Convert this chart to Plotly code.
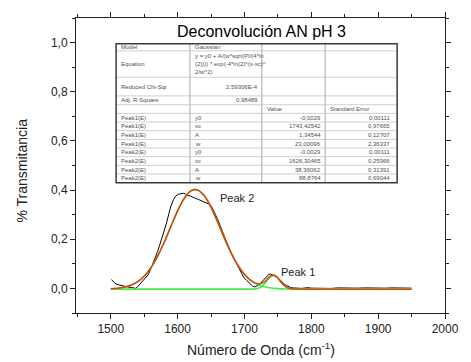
import plotly.graph_objects as go

# ---------------- data ----------------
data_x = [1501, 1504, 1507, 1511, 1515, 1519, 1523, 1527, 1531, 1534, 1537, 1540, 1543, 1546,
          1550, 1553, 1556, 1560, 1563, 1566, 1570, 1573, 1576, 1580, 1583, 1587, 1590, 1594,
          1597, 1601, 1605, 1609, 1612, 1615, 1619, 1623, 1627, 1631, 1635, 1639, 1643, 1646,
          1650, 1653, 1657, 1660, 1663, 1667, 1670, 1673, 1677, 1680, 1683, 1687, 1690, 1693,
          1696, 1699, 1703, 1706, 1709, 1712, 1715, 1718, 1721, 1724, 1727, 1730, 1733, 1736,
          1739, 1742, 1745, 1748, 1751, 1754, 1757, 1760, 1763, 1766, 1769, 1772, 1776, 1780,
          1785, 1790, 1795, 1800, 1810, 1820, 1830, 1840, 1850, 1860, 1870, 1880, 1890, 1900,
          1910, 1920, 1930, 1940, 1950]
data_y = [0.036, 0.028, 0.019, 0.015, 0.012, 0.009, 0.006, 0.005, 0.004, 0.001, 0.000, 0.006,
          0.016, 0.025, 0.036, 0.046, 0.056, 0.080, 0.100, 0.122, 0.150, 0.175, 0.200, 0.232,
          0.262, 0.305, 0.335, 0.362, 0.375, 0.383, 0.386, 0.387, 0.383, 0.378, 0.376, 0.370,
          0.366, 0.362, 0.357, 0.354, 0.350, 0.344, 0.337, 0.322, 0.298, 0.280, 0.256, 0.232,
          0.212, 0.190, 0.164, 0.145, 0.128, 0.108, 0.090, 0.072, 0.057, 0.044, 0.033, 0.024,
          0.016, 0.010, 0.006, 0.008, 0.013, 0.021, 0.030, 0.038, 0.046, 0.056, 0.059, 0.055,
          0.052, 0.046, 0.040, 0.031, 0.024, 0.017, 0.012, 0.007, 0.004, 0.002, 0.000, 0.001,
          0.000, 0.002, 0.003, 0.001, 0.000, 0.001, 0.000, 0.002, 0.001, 0.000, 0.001, 0.002,
          0.001, 0.000, 0.001, 0.002, 0.001, 0.000, 0.001]

fit_x = [1500, 1510, 1520, 1530, 1540, 1550, 1560, 1570, 1580, 1590, 1600, 1610, 1620, 1630,
         1640, 1650, 1660, 1670, 1680, 1690, 1700, 1705, 1710, 1715, 1720, 1725, 1730, 1735,
         1740, 1745, 1750, 1755, 1760, 1765, 1770, 1775, 1780, 1800, 1850, 1900, 1950]
peak1_y = [-0.0029, -0.0029, -0.0029, -0.0029, -0.0029, -0.0029, -0.0029, -0.0029, -0.0029,
           -0.0029, -0.0029, -0.0029, -0.0029, -0.0029, -0.0029, -0.0029, -0.0029, -0.0029,
           -0.0029, -0.0029, -0.0029, -0.0029, -0.0027, -0.0021, 0.0002, 0.0064, 0.0185,
           0.0350, 0.0488, 0.0513, 0.0408, 0.0242, 0.0101, 0.0019, -0.0016, -0.0026, -0.0029,
           -0.0029, -0.0029, -0.0029, -0.0029]
peak2_y = [-0.0014, 0.0006, 0.0048, 0.0128, 0.0268, 0.0496, 0.0838, 0.1304, 0.1882, 0.2524,
           0.3152, 0.3665, 0.3970, 0.4007, 0.3767, 0.3300, 0.2693, 0.2045, 0.1445, 0.0947,
           0.0574, 0.0432, 0.0318, 0.0227, 0.0157, 0.0104, 0.0064, 0.0035, 0.0014, 0.0000,
           -0.0010, -0.0017, -0.0021, -0.0024, -0.0026, -0.0027, -0.0028, -0.0029, -0.0029,
           -0.0029, -0.0029]
cumul_y = [-0.0014, 0.0006, 0.0048, 0.0128, 0.0268, 0.0496, 0.0838, 0.1304, 0.1882, 0.2524,
           0.3152, 0.3665, 0.3970, 0.4007, 0.3767, 0.3300, 0.2693, 0.2045, 0.1445, 0.0947,
           0.0574, 0.0432, 0.0320, 0.0235, 0.0188, 0.0197, 0.0278, 0.0414, 0.0531, 0.0542,
           0.0427, 0.0254, 0.0109, 0.0024, -0.0013, -0.0024, -0.0028, -0.0029, -0.0029,
           -0.0029, -0.0029]

x_tick_vals = [1500, 1600, 1700, 1800, 1900, 2000]
x_tick_text = ["1500", "1600", "1700", "1800", "1900", "2000"]
y_tick_vals = [0.0, 0.2, 0.4, 0.6, 0.8, 1.0]
y_tick_text = ["0,0", "0,2", "0,4", "0,6", "0,8", "1,0"]

title_text = "Deconvolución AN pH 3"
x_title = "Número de Onda (cm<sup>-1</sup>)"
y_title = "% Transmitancia"

table_rows = [
    ["Model", "Gaussian", "", ""],
    ["Equation", "y = y0 + A/(w*sqrt(PI/(4*ln<br>(2)))) * exp(-4*ln(2)*(x-xc)^<br>2/w^2)", "", ""],
    ["Reduced Chi-Sqr", "2,59306E-4", "", ""],
    ["Adj. R-Square", "0,98489", "", ""],
    ["", "", "Value", "Standard Error"],
    ["Peak1(E)", "y0", "-0,0029", "0,00111"],
    ["Peak1(E)", "xc", "1743,42542", "0,97665"],
    ["Peak1(E)", "A", "1,34544", "0,12707"],
    ["Peak1(E)", "w", "23,00096", "2,36337"],
    ["Peak2(E)", "y0", "-0,0029", "0,00111"],
    ["Peak2(E)", "xc", "1626,30465", "0,25966"],
    ["Peak2(E)", "A", "38,36062", "0,31391"],
    ["Peak2(E)", "w", "88,8764", "0,69044"],
]

# ---------------- layout geometry (pixels) ----------------
W, H = 471, 362
L, R, T, B = 76, 456, 12, 313
def px(x):
    return (x - L) / (R - L)
def py(y):
    return (B - y) / (B - T)

FONT = "Liberation Sans, Arial, sans-serif"

fig = go.Figure()
fig.add_trace(go.Scatter(x=data_x, y=data_y, mode="lines",
                         line=dict(color="black", width=1), showlegend=False))
fig.add_trace(go.Scatter(x=fit_x, y=peak1_y, mode="lines", line_shape="spline",
                         line=dict(color="#44ee44", width=1.6), showlegend=False))
fig.add_trace(go.Scatter(x=fit_x, y=peak2_y, mode="lines", line_shape="spline",
                         line=dict(color="#44ee44", width=1.6), showlegend=False))
fig.add_trace(go.Scatter(x=fit_x, y=cumul_y, mode="lines", line_shape="spline",
                         line=dict(color="#ff2000", width=1.5), opacity=0.86, showlegend=False))

shapes = []
annotations = []

# table
col_edges = [117.3, 193.3, 267.3, 332.7, 406.7]
row_edges = [38.3, 45.5, 72.5, 91.5, 100.5, 109.3] + [109.3 + 8.84 * (i + 1) for i in range(8)]
for yv in row_edges[1:-1]:
    shapes.append(dict(type="line", xref="paper", yref="paper",
                       x0=px(col_edges[0]), x1=px(col_edges[-1]), y0=py(yv), y1=py(yv),
                       line=dict(color="#cfcfcf", width=1)))
for xv in col_edges[1:-1]:
    shapes.append(dict(type="line", xref="paper", yref="paper",
                       x0=px(xv), x1=px(xv), y0=py(row_edges[0]), y1=py(row_edges[-1]),
                       line=dict(color="#c4c4c4", width=1.5)))
shapes.append(dict(type="rect", xref="paper", yref="paper",
                   x0=px(col_edges[0]), x1=px(col_edges[-1]),
                   y0=py(row_edges[-1]), y1=py(row_edges[0]),
                   line=dict(color="#3a3a3a", width=1.5)))

tfont = dict(family=FONT, size=6, color="#505050")
right_cols_rows = {2, 3}
for ri, row in enumerate(table_rows):
    yc = py((row_edges[ri] + row_edges[ri + 1]) / 2)
    for ci, txt in enumerate(row):
        if not txt:
            continue
        if ri in right_cols_rows and ci == 1:
            xa, xanchor = px(col_edges[2] - 2), "right"
        elif ri >= 5 and ci >= 2:
            xa, xanchor = px(col_edges[ci + 1] - (2 if ci == 2 else 5)), "right"
        else:
            xa, xanchor = px(col_edges[ci] + 3), "left"
        annotations.append(dict(xref="paper", yref="paper", x=xa, y=yc, text=txt,
                                xanchor=xanchor, yanchor="middle", showarrow=False,
                                align="left", font=tfont))

# title & labels
annotations.append(dict(xref="paper", yref="paper", x=px(267), y=py(26), text=title_text,
                        showarrow=False, xanchor="center", yanchor="middle",
                        font=dict(family=FONT, size=16, color="black")))
annotations.append(dict(xref="paper", yref="paper", x=px(267), y=py(350), text=x_title,
                        showarrow=False, xanchor="center", yanchor="middle",
                        font=dict(family=FONT, size=14, color="#222")))
annotations.append(dict(xref="paper", yref="paper", x=px(20), y=py(168), text=y_title,
                        showarrow=False, xanchor="center", yanchor="middle", textangle=-90,
                        font=dict(family=FONT, size=14, color="#222")))
annotations.append(dict(xref="x", yref="y", x=1660, y=0.366, text="Peak 2",
                        showarrow=False, xanchor="left", yanchor="middle",
                        font=dict(family=FONT, size=11, color="#222")))
annotations.append(dict(xref="x", yref="y", x=1751, y=0.065, text="Peak 1",
                        showarrow=False, xanchor="left", yanchor="middle",
                        font=dict(family=FONT, size=11, color="#222")))

axis_common = dict(showgrid=False, zeroline=False, showline=True, linecolor="#222",
                   linewidth=1, mirror="ticks", ticks="outside", ticklen=5, tickwidth=1,
                   tickcolor="#222", tickfont=dict(family=FONT, size=12, color="#222"))
fig.update_xaxes(range=[1448, 2000], tickvals=x_tick_vals, ticktext=x_tick_text,
                 minor=dict(ticks="outside", dtick=50, tick0=1450, ticklen=3, tickcolor="#222"),
                 **axis_common)
fig.update_yaxes(range=[-0.1, 1.1], tickvals=y_tick_vals, ticktext=y_tick_text,
                 minor=dict(ticks="outside", dtick=0.1, tick0=0, ticklen=3, tickcolor="#222"),
                 **axis_common)
fig.update_layout(width=W, height=H, margin=dict(l=L, r=W - R, t=T, b=H - B),
                  paper_bgcolor="white", plot_bgcolor="white",
                  shapes=shapes, annotations=annotations, showlegend=False)
fig.write_html("out.html")
